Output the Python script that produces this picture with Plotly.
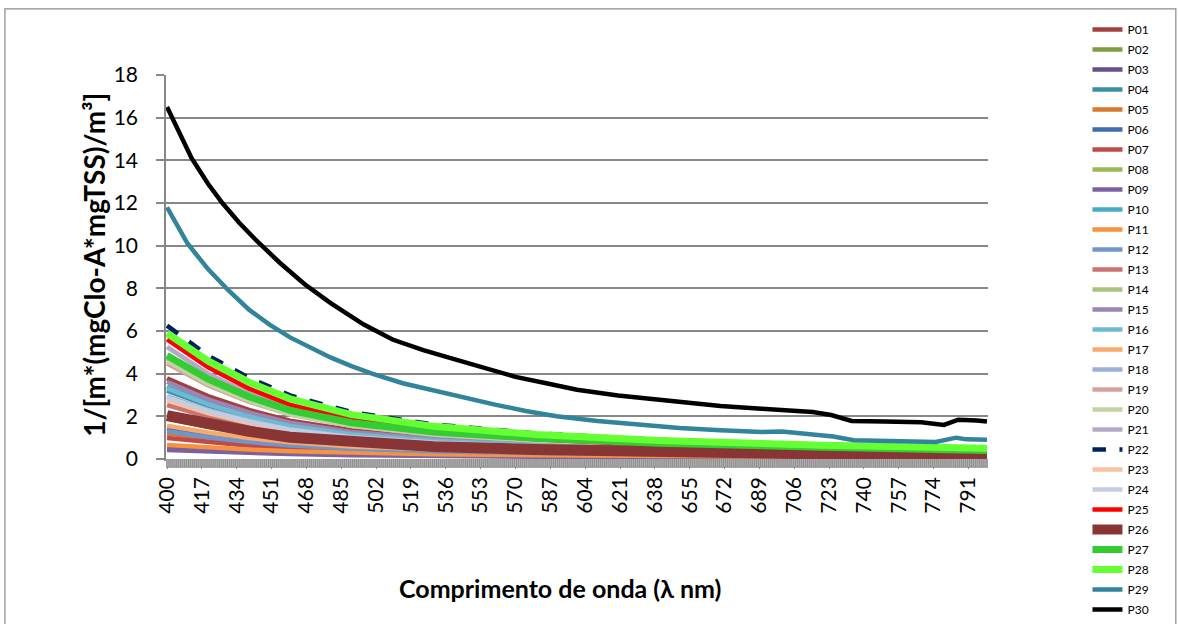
import plotly.graph_objects as go

# Wavelength grid (nm) shared by most series
wavelengths = [400, 420, 440, 460, 490, 530, 580, 640, 720, 800]

p01 = [3.78, 2.95, 2.30, 1.80, 1.35, 1.00, 0.75, 0.57, 0.43, 0.32]
p02 = [1.90, 1.50, 1.17, 0.92, 0.70, 0.52, 0.40, 0.30, 0.23, 0.17]
p03 = [0.52, 0.42, 0.34, 0.28, 0.22, 0.17, 0.13, 0.10, 0.08, 0.06]
p04 = [3.20, 2.50, 1.95, 1.52, 1.13, 0.84, 0.64, 0.48, 0.36, 0.27]
p05 = [1.20, 0.95, 0.75, 0.60, 0.46, 0.35, 0.27, 0.21, 0.16, 0.12]
p06 = [1.42, 1.10, 0.86, 0.68, 0.51, 0.39, 0.30, 0.23, 0.17, 0.13]
p07 = [0.98, 0.78, 0.62, 0.50, 0.38, 0.29, 0.22, 0.17, 0.13, 0.10]
p08 = [2.10, 1.65, 1.28, 1.00, 0.76, 0.57, 0.44, 0.33, 0.25, 0.19]
p09 = [0.42, 0.34, 0.28, 0.23, 0.18, 0.14, 0.11, 0.09, 0.07, 0.05]
p10 = [3.40, 2.62, 2.03, 1.58, 1.18, 0.88, 0.67, 0.50, 0.38, 0.28]
p11 = [0.66, 0.54, 0.44, 0.36, 0.28, 0.22, 0.17, 0.13, 0.10, 0.08]
p12 = [1.30, 1.02, 0.80, 0.63, 0.48, 0.36, 0.28, 0.21, 0.16, 0.12]
p13 = [2.53, 1.98, 1.55, 1.21, 0.90, 0.67, 0.51, 0.39, 0.29, 0.22]
p14 = [4.70, 3.60, 2.80, 2.20, 1.62, 1.20, 0.90, 0.68, 0.52, 0.38]
p15 = [3.62, 2.80, 2.18, 1.70, 1.27, 0.95, 0.72, 0.55, 0.41, 0.31]
p16 = [3.31, 2.56, 1.99, 1.55, 1.16, 0.86, 0.65, 0.50, 0.37, 0.28]
p17 = [1.56, 1.24, 0.98, 0.78, 0.59, 0.45, 0.34, 0.26, 0.20, 0.15]
p18 = [2.95, 2.30, 1.80, 1.40, 1.05, 0.78, 0.59, 0.45, 0.34, 0.26]
p19 = [4.48, 3.45, 2.68, 2.08, 1.55, 1.14, 0.86, 0.65, 0.49, 0.37]
p20 = [4.60, 3.52, 2.72, 2.10, 1.56, 1.15, 0.87, 0.66, 0.50, 0.37]
p21 = [5.25, 4.00, 3.08, 2.38, 1.75, 1.28, 0.96, 0.72, 0.54, 0.40]
p22 = [6.25, 4.85, 3.80, 2.98, 2.20, 1.62, 1.20, 0.90, 0.67, 0.50]
p23 = [2.75, 2.15, 1.68, 1.31, 0.98, 0.73, 0.56, 0.42, 0.32, 0.24]
p24 = [2.89, 2.25, 1.76, 1.37, 1.02, 0.76, 0.58, 0.44, 0.33, 0.25]
p25 = [5.60, 4.30, 3.30, 2.55, 1.85, 1.30, 0.92, 0.66, 0.46, 0.32]
p26 = [2.03, 1.62, 1.30, 1.02, 0.78, 0.58, 0.44, 0.32, 0.24, 0.19]
p27 = [4.85, 3.75, 2.92, 2.28, 1.70, 1.27, 0.97, 0.74, 0.55, 0.40]
p28 = [5.90, 4.60, 3.60, 2.82, 2.08, 1.53, 1.15, 0.87, 0.65, 0.50]

# P29 and P30 are sampled more finely
wavelengths_p29 = [400, 405, 410, 420, 430, 440, 450, 460, 470, 480, 490, 500,
                   515, 530, 545, 560, 575, 590, 610, 630, 650, 670, 690, 700,
                   710, 725, 735, 750, 765, 775, 785, 790, 800]
p29 = [11.8, 11.0, 10.1, 8.9, 7.9, 7.0, 6.3, 5.7, 5.2, 4.75, 4.35, 4.0,
       3.55, 3.2, 2.85, 2.55, 2.25, 2.0, 1.78, 1.6, 1.45, 1.35, 1.26, 1.29,
       1.18, 1.05, 0.88, 0.85, 0.82, 0.80, 1.00, 0.92, 0.90]

wavelengths_p30 = [400, 405, 412, 420, 427, 435, 443, 455, 467, 480, 496, 510,
                   525, 543, 560, 570, 585, 600, 620, 640, 655, 670, 690, 705,
                   715, 724, 734, 750, 768, 779, 786, 795, 800]
p30 = [16.5, 15.5, 14.1, 12.9, 12.0, 11.1, 10.3, 9.2, 8.2, 7.3, 6.3, 5.6,
       5.1, 4.6, 4.1, 3.85, 3.55, 3.25, 2.98, 2.78, 2.62, 2.48, 2.36, 2.26,
       2.2, 2.06, 1.78, 1.76, 1.72, 1.6, 1.84, 1.8, 1.76]

tick_labels = [400, 417, 434, 451, 468, 485, 502, 519, 536, 553, 570, 587,
               604, 621, 638, 655, 672, 689, 706, 723, 740, 757, 774, 791]

# name, wavelengths, values, colour, width, dash
traces = [
    ("P01", wavelengths, p01, "#A3403D", 4.5, "solid"),
    ("P02", wavelengths, p02, "#7E9D40", 4.5, "solid"),
    ("P03", wavelengths, p03, "#664F8C", 4.5, "solid"),
    ("P04", wavelengths, p04, "#3A8EA6", 4.5, "solid"),
    ("P05", wavelengths, p05, "#D9782F", 4.5, "solid"),
    ("P06", wavelengths, p06, "#3E6DB0", 4.5, "solid"),
    ("P07", wavelengths, p07, "#BE4B48", 4.5, "solid"),
    ("P08", wavelengths, p08, "#98B954", 4.5, "solid"),
    ("P09", wavelengths, p09, "#7D60A0", 4.5, "solid"),
    ("P10", wavelengths, p10, "#46AAC5", 4.5, "solid"),
    ("P11", wavelengths, p11, "#F69240", 4.5, "solid"),
    ("P12", wavelengths, p12, "#7194C9", 4.5, "solid"),
    ("P13", wavelengths, p13, "#CC7371", 4.5, "solid"),
    ("P14", wavelengths, p14, "#A9C47F", 4.5, "solid"),
    ("P15", wavelengths, p15, "#9A85B4", 4.5, "solid"),
    ("P16", wavelengths, p16, "#6DBBD0", 4.5, "solid"),
    ("P17", wavelengths, p17, "#F8A96C", 4.5, "solid"),
    ("P18", wavelengths, p18, "#9DB0D5", 4.5, "solid"),
    ("P19", wavelengths, p19, "#D6A09E", 4.5, "solid"),
    ("P20", wavelengths, p20, "#C0D3A2", 4.5, "solid"),
    ("P21", wavelengths, p21, "#B4A7C7", 4.5, "solid"),
    ("P22", wavelengths, p22, "#002060", 4.5, "dash"),
    ("P23", wavelengths, p23, "#F9C19F", 4.5, "solid"),
    ("P24", wavelengths, p24, "#C3CDE2", 4.5, "solid"),
    ("P25", wavelengths, p25, "#FF0000", 4.5, "solid"),
    ("P26", wavelengths, p26, "#893535", 11, "solid"),
    ("P27", wavelengths, p27, "#33CC33", 7, "solid"),
    ("P28", wavelengths, p28, "#66FF33", 7, "solid"),
    ("P29", wavelengths_p29, p29, "#31849B", 4.5, "solid"),
    ("P30", wavelengths_p30, p30, "#000000", 4.5, "solid"),
]

fig = go.Figure()
for name, xs, ys, color, width, dash in traces:
    fig.add_trace(go.Scatter(
        x=xs, y=ys, name=name, mode="lines", legendgroup=name,
        line=dict(color=color, width=width, dash=dash),
    ))

font_family = "Lato, 'Open Sans', sans-serif"
grid_color = "#878787"

# tick band under the wavelength axis: a grey strip with a pale gap
# between neighbouring categories
tick_band = [
    dict(type="rect", xref="paper", yref="paper", x0=0, x1=1,
         y0=-0.0225, y1=0, fillcolor="#8D8D8D", line=dict(width=0),
         layer="above"),
] + [
    dict(type="line", xref="x", yref="paper", x0=w, x1=w,
         y0=-0.02, y1=0, line=dict(color="#C4C4C4", width=0.7), layer="above")
    for w in range(400, 801)
]

fig.update_layout(
    width=1178, height=624,
    margin=dict(l=166, r=190, t=75, b=165),
    paper_bgcolor="white", plot_bgcolor="white",
    font=dict(family=font_family, color="#000000"),
    showlegend=True,
    legend=dict(
        x=1.121, xanchor="left", y=1.148, yanchor="top",
        font=dict(size=12, family=font_family),
        tracegroupgap=1, bgcolor="rgba(0,0,0,0)", maxheight=620,
    ),
    xaxis=dict(
        range=[399.5, 800.5],
        tickmode="array", tickvals=tick_labels,
        ticktext=[str(v) for v in tick_labels],
        tickangle=-90, tickfont=dict(size=21),
        ticks="outside", ticklen=8, tickcolor="#8C8C8C", tickwidth=1,
        showgrid=False, zeroline=False,
        showline=True, linecolor=grid_color, linewidth=1.5,
    ),
    yaxis=dict(
        range=[0, 18], dtick=2, tick0=0,
        tickfont=dict(size=21),
        ticks="outside", ticklen=8, tickcolor=grid_color, tickwidth=1.5,
        ticklabelstandoff=14,
        showgrid=True, gridcolor=grid_color, gridwidth=1.5,
        zeroline=False, showline=True, linecolor=grid_color, linewidth=1.5,
    ),
    annotations=[
        dict(text="<b>Comprimento de onda (λ nm)</b>", xref="paper", yref="paper",
             x=0.479, y=-0.336, xanchor="center", yanchor="middle",
             showarrow=False, font=dict(size=25, family=font_family)),
        dict(text="<b>1/[m*(mgClo-A*mgTSS)/m³]</b>", xref="paper", yref="paper",
             x=-0.088, y=0.505, xanchor="center", yanchor="middle", textangle=-90,
             showarrow=False, font=dict(size=28, family=font_family)),
    ],
    shapes=[
        dict(type="rect", xref="paper", yref="paper",
             x0=-0.1959, x1=1.2285, y0=-0.45, y1=1.172,
             line=dict(color="#8A8A8A", width=1.2), layer="below"),
    ] + tick_band,
)

fig.write_html("out.html")
